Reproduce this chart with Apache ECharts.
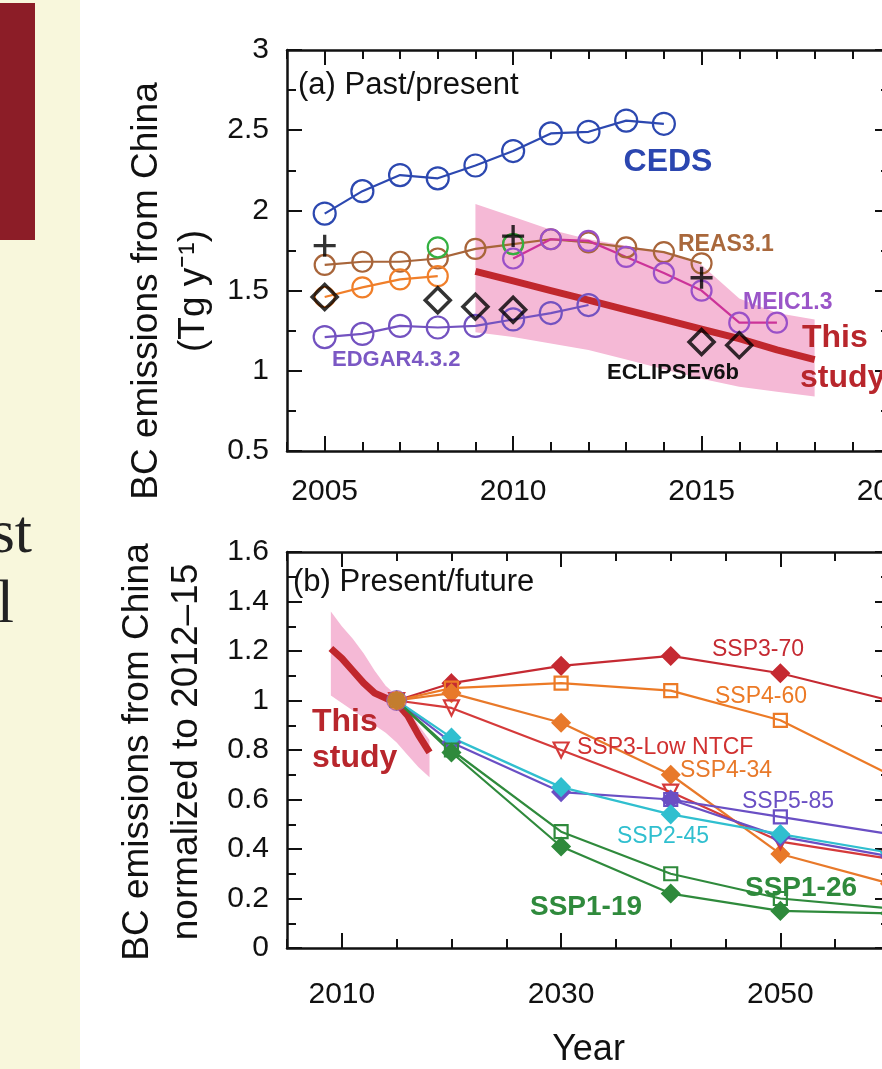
<!DOCTYPE html>
<html>
<head>
<meta charset="utf-8">
<script src="https://cdn.jsdelivr.net/npm/echarts@6/dist/echarts.min.js"></script>
<style>
html, body { margin: 0; padding: 0; background: #fff; overflow: hidden; }
#chart { width: 960px; height: 1069px; }
</style>
</head>
<body>
<div id="chart"></div>
<script>
// (a) past / present inventories, Tg/y
const cedsYears = [2005, 2006, 2007, 2008, 2009, 2010, 2011, 2012, 2013, 2014];
const cedsVals = [1.98, 2.12, 2.22, 2.20, 2.28, 2.37, 2.48, 2.49, 2.56, 2.54];
const reasYears = [2005, 2006, 2007, 2008, 2009, 2010, 2011, 2012, 2013, 2014, 2015];
const reasVals = [1.66, 1.68, 1.68, 1.70, 1.76, 1.79, 1.82, 1.80, 1.77, 1.74, 1.67];
const orangeYears = [2005, 2006, 2007, 2008];
const orangeVals = [1.46, 1.52, 1.57, 1.59];
const greenYears = [2008, 2010];
const greenVals = [1.77, 1.79];
const meicYears = [2010, 2011, 2012, 2013, 2014, 2015, 2016, 2017];
const meicVals = [1.70, 1.82, 1.81, 1.71, 1.61, 1.50, 1.30, 1.30];
const edgarYears = [2005, 2006, 2007, 2008, 2009, 2010, 2011, 2012];
const edgarVals = [1.21, 1.23, 1.28, 1.27, 1.28, 1.32, 1.36, 1.41];
const eclipseYears = [2005, 2008, 2009, 2010, 2015, 2016];
const eclipseVals = [1.46, 1.44, 1.40, 1.38, 1.18, 1.16];
const plusYears = [2005, 2010, 2015];
const plusVals = [1.78, 1.84, 1.58];
const studyYearsA = [2009, 2010, 2011, 2012, 2013, 2014, 2015, 2016, 2017, 2018];
const studyValsA = [1.62, 1.56, 1.50, 1.44, 1.38, 1.32, 1.26, 1.20, 1.13, 1.07];
const bandLowA = [1.24, 1.21, 1.17, 1.13, 1.07, 1.01, 0.95, 0.90, 0.87, 0.84];
const bandHighA = [2.04, 1.96, 1.88, 1.82, 1.78, 1.74, 1.66, 1.45, 1.36, 1.32];

// (b) present / future, normalized
const sspYears = [2015, 2020, 2030, 2040, 2050, 2060];
const ssp370 = [1.0, 1.07, 1.14, 1.18, 1.11, 1.00];
const ssp460 = [1.0, 1.05, 1.07, 1.04, 0.92, 0.70];
const ssp434 = [1.0, 1.03, 0.91, 0.70, 0.38, 0.26];
const ssp3low = [1.0, 0.97, 0.80, 0.63, 0.43, 0.36];
const ssp585 = [1.0, 0.83, 0.63, 0.60, 0.45, 0.37];
const ssp585bYears = [2040, 2050, 2060];
const ssp585b = [0.60, 0.53, 0.46];
const ssp245 = [1.0, 0.85, 0.65, 0.54, 0.46, 0.385];
const ssp126 = [1.0, 0.80, 0.47, 0.30, 0.20, 0.16];
const ssp119 = [1.0, 0.79, 0.41, 0.22, 0.15, 0.14];
const studyYearsB = [2009, 2010, 2011, 2012, 2013, 2014, 2015, 2016, 2017, 2018];
const studyValsB = [1.21, 1.17, 1.12, 1.07, 1.03, 1.01, 0.99, 0.94, 0.86, 0.79];
const bandLowB = [1.02, 0.99, 0.96, 0.93, 0.90, 0.87, 0.83, 0.78, 0.73, 0.69];
const bandHighB = [1.36, 1.30, 1.25, 1.19, 1.12, 1.06, 1.02, 0.97, 0.90, 0.84];

const topMajor = [2005, 2010, 2015, 2020];
const botMajor = [2010, 2030, 2050];

const FONT = 'Liberation Sans, Arial, sans-serif';
const BAND = '#f5b9d6';

function pairs(xs, ys) {
    return xs.map((x, i) => [x, ys[i]]);
}

function xAxisOf(grid, pos, min, max, interval, len, custom, labels, margin) {
    let ax = {
        type: 'value', gridIndex: grid, position: pos, min: min, max: max,
        splitLine: { show: false },
        axisLine: { show: !custom, onZero: false, lineStyle: { color: '#111', width: 2.5 } },
        axisTick: { inside: true, length: len, lineStyle: { color: '#111', width: 2 } },
        axisLabel: { show: false }
    };
    if (custom) ax.axisTick.customValues = custom;
    else ax.interval = interval;
    if (labels) {
        ax.axisLabel = {
            show: true, margin: margin, color: '#111', fontSize: 30, fontFamily: FONT,
            formatter: labels
        };
    }
    return ax;
}

function yAxisOf(grid, pos, min, max, interval, showLabel) {
    return {
        type: 'value', gridIndex: grid, position: pos, min: min, max: max, interval: interval,
        splitLine: { show: false },
        axisLine: { show: true, onZero: false, lineStyle: { color: '#111', width: 2.5 } },
        axisTick: { inside: true, length: 15, lineStyle: { color: '#111', width: 2 } },
        minorTick: { show: true, splitNumber: 2, length: 9, lineStyle: { color: '#111', width: 2 } },
        axisLabel: { show: showLabel, margin: 18, color: '#111', fontSize: 30, fontFamily: FONT }
    };
}

function lineSeries(xi, yi, xs, ys, color, symbol, size, filled, extra) {
    let s = {
        type: 'line', xAxisIndex: xi, yAxisIndex: yi,
        data: pairs(xs, ys),
        symbol: symbol, symbolSize: size,
        lineStyle: { color: color, width: 2.2 },
        itemStyle: { color: filled ? color : 'rgba(0,0,0,0)', borderColor: color, borderWidth: 2.2 },
        z: 3
    };
    return Object.assign(s, extra || {});
}

// uncertainty band: one polygon through the library's coordinate system
function bandSeries(xi, yi, xs, lo, hi) {
    return {
        type: 'custom', xAxisIndex: xi, yAxisIndex: yi, z: 1, silent: true,
        data: xs.map((x, i) => [x, lo[i], hi[i]]),
        encode: { x: 0, y: [1, 2] },
        renderItem: function (params, api) {
            if (params.dataIndex !== 0) return;
            let pts = [];
            for (let i = 0; i < xs.length; i++) pts.push(api.coord([xs[i], hi[i]]));
            for (let i = xs.length - 1; i >= 0; i--) pts.push(api.coord([xs[i], lo[i]]));
            return { type: 'polygon', shape: { points: pts }, style: { fill: BAND } };
        }
    };
}

function label(text, x, y, size, color, bold, align) {
    return {
        type: 'text', x: x, y: y, z: 10,
        style: {
            text: text, fill: color, fontSize: size, fontFamily: FONT,
            fontWeight: bold ? 'bold' : 'normal',
            align: align || 'left', verticalAlign: 'middle',
            textAlign: align || 'left', textVerticalAlign: 'middle'
        }
    };
}

function vlabel(text, x, y) {
    let t = label(text, x, y, 37, '#111', false, 'center');
    t.rotation = Math.PI / 2;
    return t;
}

const plusPath = 'path://M8.5,0 H11.5 V8.5 H20 V11.5 H11.5 V20 H8.5 V11.5 H0 V8.5 H8.5 Z';
const yearFmt = v => (v % 5 === 0 ? String(v) : '');
const yearFmtB = v => ((v - 2010) % 20 === 0 ? String(v) : '');

const chart = echarts.init(document.getElementById('chart'));
chart.setOption({
    animation: false,
    backgroundColor: '#fff',
    textStyle: { fontFamily: FONT },
    grid: [
        { left: 287, top: 50, width: 603, height: 401, show: false },
        { left: 287, top: 552, width: 603, height: 401, show: false }
    ],
    xAxis: [
        xAxisOf(0, 'bottom', 2004, 2020, 1, 9, null, yearFmt, 26),
        xAxisOf(0, 'bottom', 2004, 2020, 1, 15, topMajor, null),
        xAxisOf(0, 'top', 2004, 2020, 1, 9, null, null),
        xAxisOf(0, 'top', 2004, 2020, 1, 15, topMajor, null),
        Object.assign(xAxisOf(1, 'bottom', 2005, 2060, 5, 9, null, yearFmtB, 32), {
            name: 'Year', nameLocation: 'middle', nameGap: 84,
            nameTextStyle: { fontSize: 36, color: '#111', fontFamily: FONT }
        }),
        xAxisOf(1, 'bottom', 2005, 2060, 5, 15, botMajor, null),
        xAxisOf(1, 'top', 2005, 2060, 5, 9, null, null),
        xAxisOf(1, 'top', 2005, 2060, 5, 15, botMajor, null)
    ],
    yAxis: [
        yAxisOf(0, 'left', 0.5, 3, 0.5, true),
        yAxisOf(0, 'right', 0.5, 3, 0.5, false),
        yAxisOf(1, 'left', 0, 1.6, 0.2, true),
        yAxisOf(1, 'right', 0, 1.6, 0.2, false)
    ],
    graphic: [
        { type: 'rect', shape: { x: 0, y: 0, width: 80, height: 1069 }, style: { fill: '#f8f7dc' }, z: 0 },
        { type: 'rect', shape: { x: 0, y: 3, width: 35, height: 237 }, style: { fill: '#8c1d27' }, z: 1 },
        { type: 'text', x: 32, y: 567, style: { text: 'st', fontSize: 62, fontFamily: 'Liberation Serif, serif', fill: '#222', align: 'right', verticalAlign: 'bottom', textAlign: 'right', textVerticalAlign: 'bottom' } },
        { type: 'text', x: 14, y: 637, style: { text: 'l', fontSize: 62, fontFamily: 'Liberation Serif, serif', fill: '#222', align: 'right', verticalAlign: 'bottom', textAlign: 'right', textVerticalAlign: 'bottom' } },
        vlabel('BC emissions from China', 147, 291),
        vlabel('(Tg y⁻¹)', 194, 291),
        vlabel('BC emissions from China', 138, 752),
        vlabel('normalized to 2012–15', 187, 752),
        label('(a) Past/present', 298, 85, 31, '#111', false),
        label('CEDS', 668, 162, 32, '#2b46b0', true, 'center'),
        label('REAS3.1', 678, 245, 23, '#a9683c', true),
        label('MEIC1.3', 743, 303, 23, '#9a55c8', true),
        label('This', 802, 338, 32, '#b8262c', true),
        label('study', 800, 378, 32, '#b8262c', true),
        label('ECLIPSEv6b', 607, 373, 22, '#111', true),
        label('EDGAR4.3.2', 332, 360, 22, '#7b58c4', true),
        label('(b) Present/future', 293, 582, 31, '#111', false),
        label('This', 312, 722, 32, '#b8262c', true),
        label('study', 312, 758, 32, '#b8262c', true),
        label('SSP3-70', 712, 650, 23, '#c52a32', false),
        label('SSP4-60', 715, 697, 23, '#ec7a26', false),
        label('SSP3-Low NTCF', 577, 748, 23, '#d03030', false),
        label('SSP4-34', 680, 771, 23, '#e8792a', false),
        label('SSP5-85', 742, 802, 23, '#6a4fc4', false),
        label('SSP2-45', 617, 837, 23, '#30bfcf', false),
        label('SSP1-26', 745, 888, 28, '#2f8a3c', true),
        label('SSP1-19', 530, 907, 28, '#2f8a3c', true)
    ],
    series: [
        // panel (a)
        bandSeries(0, 0, studyYearsA, bandLowA, bandHighA),
        { type: 'line', xAxisIndex: 0, yAxisIndex: 0, data: pairs(studyYearsA, studyValsA),
          symbol: 'none', lineStyle: { color: '#c0272d', width: 7 }, z: 2 },
        lineSeries(0, 0, cedsYears, cedsVals, '#2c48b0', 'circle', 22, false),
        lineSeries(0, 0, reasYears, reasVals, '#a8653a', 'circle', 20, false),
        lineSeries(0, 0, orangeYears, orangeVals, '#f07f2a', 'circle', 20, false),
        lineSeries(0, 0, greenYears, greenVals, '#33b040', 'circle', 20, false, { lineStyle: { width: 0 } }),
        lineSeries(0, 0, meicYears, meicVals, '#cc3399', 'circle', 20, false,
            { itemStyle: { color: 'rgba(0,0,0,0)', borderColor: '#9a50c8', borderWidth: 2.2 } }),
        lineSeries(0, 0, edgarYears, edgarVals, '#7352c0', 'circle', 22, false),
        { type: 'scatter', xAxisIndex: 0, yAxisIndex: 0, data: pairs(eclipseYears, eclipseVals),
          symbol: 'diamond', symbolSize: 25,
          itemStyle: { color: 'rgba(0,0,0,0)', borderColor: '#000', borderWidth: 3.5 }, z: 4 },
        { type: 'scatter', xAxisIndex: 0, yAxisIndex: 0, data: pairs(plusYears, plusVals),
          symbol: plusPath, symbolSize: 22, itemStyle: { color: '#000' }, z: 4 },

        // panel (b)
        bandSeries(4, 2, studyYearsB, bandLowB, bandHighB),
        { type: 'line', xAxisIndex: 4, yAxisIndex: 2, data: pairs(studyYearsB, studyValsB),
          symbol: 'none', lineStyle: { color: '#c0272d', width: 7 }, z: 2 },
        lineSeries(4, 2, sspYears, ssp370, '#c52a32', 'diamond', 17, true),
        lineSeries(4, 2, sspYears, ssp460, '#ec7a26', 'rect', 13, false),
        lineSeries(4, 2, sspYears, ssp434, '#e8792a', 'diamond', 17, true),
        lineSeries(4, 2, sspYears, ssp3low, '#d53a3a', 'triangle', 15, false, { symbolRotate: 180 }),
        lineSeries(4, 2, sspYears, ssp585, '#6a4fc4', 'diamond', 17, true),
        lineSeries(4, 2, ssp585bYears, ssp585b, '#6a4fc4', 'rect', 13, false),
        lineSeries(4, 2, sspYears, ssp245, '#30bfcf', 'diamond', 17, true),
        lineSeries(4, 2, sspYears, ssp126, '#2f8a3c', 'rect', 13, false),
        lineSeries(4, 2, sspYears, ssp119, '#2f8a3c', 'diamond', 17, true),
        { type: 'scatter', xAxisIndex: 4, yAxisIndex: 2, data: [[sspYears[0], ssp370[0]]],
          symbol: 'circle', symbolSize: 20, itemStyle: { color: '#e8792a', borderColor: '#8a5cc8', borderWidth: 1 }, z: 5 }
    ]
});
</script>
</body>
</html>
